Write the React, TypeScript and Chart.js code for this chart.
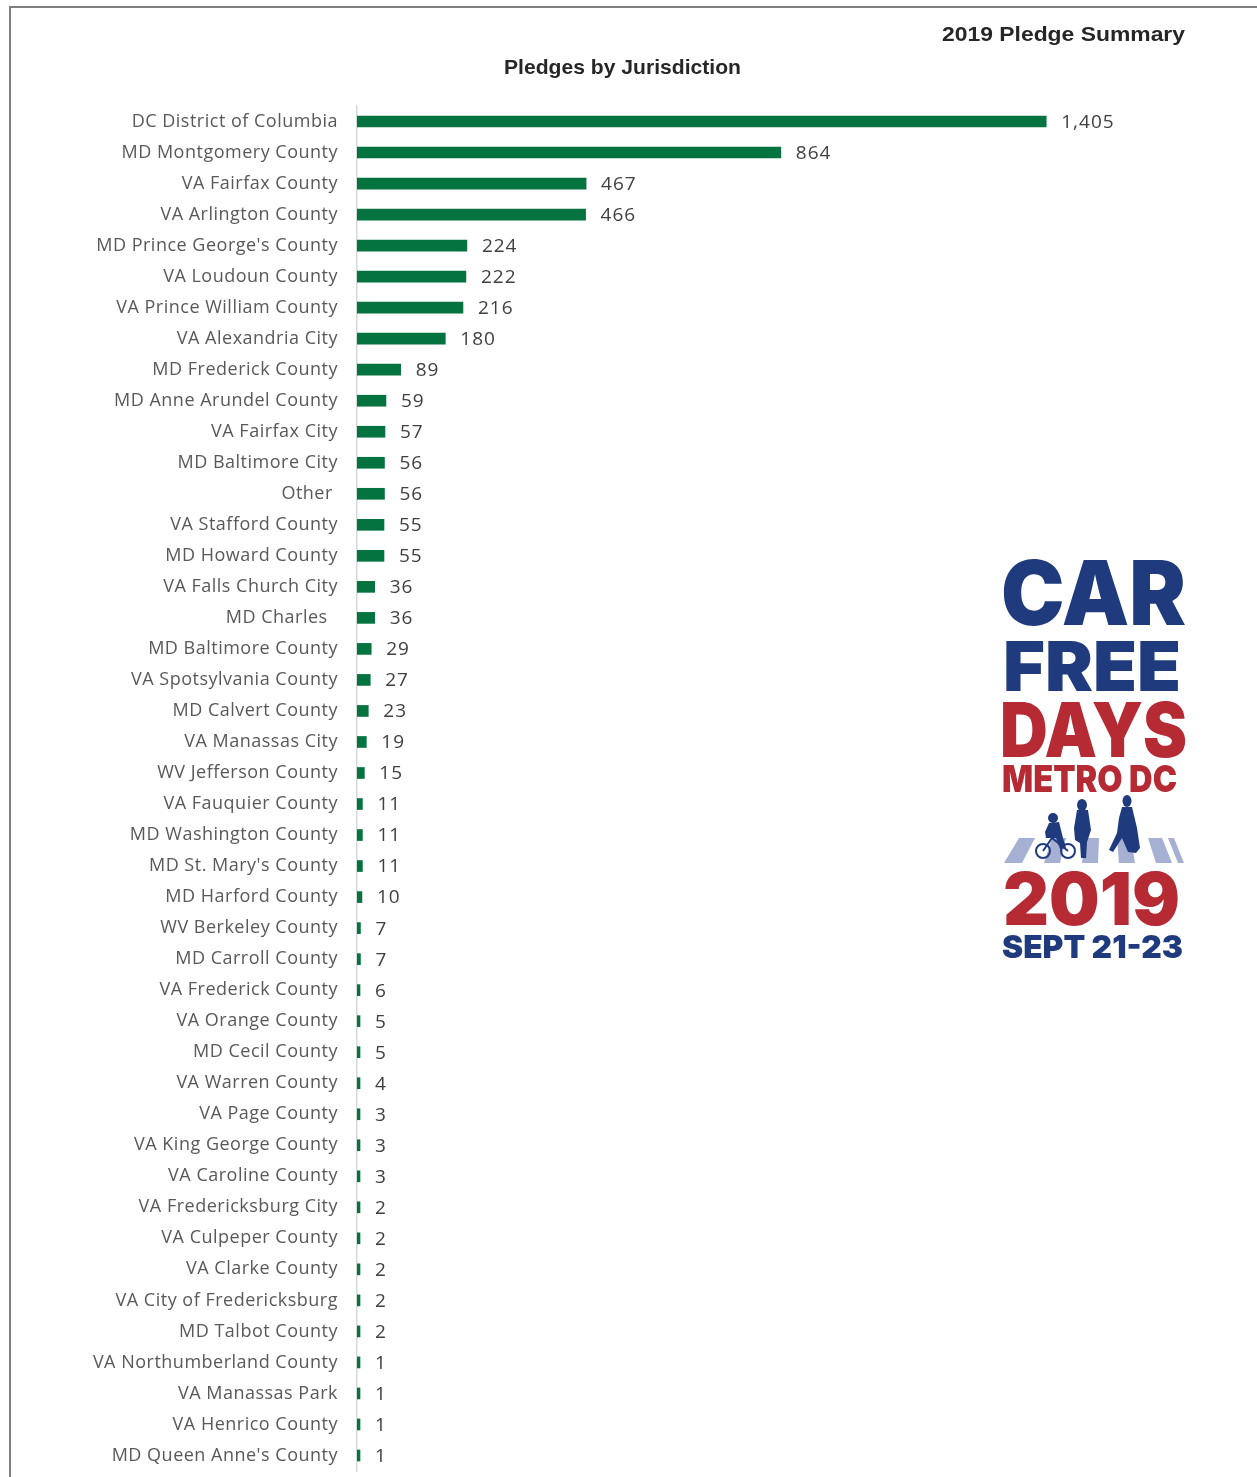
import React, { useEffect, useRef } from "react";
import { Chart, registerables } from "chart.js";

Chart.register(...registerables);

const categories: string[] = [
  "DC District of Columbia",
  "MD Montgomery County",
  "VA Fairfax County",
  "VA Arlington County",
  "MD Prince George's County",
  "VA Loudoun County",
  "VA Prince William County",
  "VA Alexandria City",
  "MD Frederick County",
  "MD Anne Arundel County",
  "VA Fairfax City",
  "MD Baltimore City",
  "Other ",
  "VA Stafford County",
  "MD Howard County",
  "VA Falls Church City",
  "MD Charles  ",
  "MD Baltimore County",
  "VA Spotsylvania County",
  "MD Calvert County",
  "VA Manassas City",
  "WV Jefferson County",
  "VA Fauquier County",
  "MD Washington County",
  "MD St. Mary's County",
  "MD Harford County",
  "WV Berkeley County",
  "MD Carroll County",
  "VA Frederick County",
  "VA Orange County",
  "MD Cecil County",
  "VA Warren County",
  "VA Page County",
  "VA King George County",
  "VA Caroline County",
  "VA Fredericksburg City",
  "VA Culpeper County",
  "VA Clarke County",
  "VA City of Fredericksburg",
  "MD Talbot County",
  "VA Northumberland County",
  "VA Manassas Park",
  "VA Henrico County",
  "MD Queen Anne's County",
];

const pledges: number[] = [
  1405, 864, 467, 466, 224, 222, 216, 180, 89, 59, 57, 56, 56, 55, 55, 36, 36,
  29, 27, 23, 19, 15, 11, 11, 11, 10, 7, 7, 6, 5, 5, 4, 3, 3, 3, 2, 2, 2, 2, 2,
  1, 1, 1, 1,
];

const chartTitle = "Pledges by Jurisdiction";
const pageTitle = "2019 Pledge Summary";
const logoLines = ["CAR", "FREE", "DAYS", "METRO DC", "2019", "SEPT 21-23"];

const BAR_COLOR = "#05733f";
const TEXT_COLOR = "#595959";
const VALUE_COLOR = "#404040";
const NAVY = "#1f3b7e";
const RED = "#b62a33";

const spacingPlugin = {
  id: "spacing",
  beforeDraw(chart: any) {
    (chart.ctx as any).letterSpacing = "0.5px";
  },
};

const valueLabelPlugin = {
  id: "valueLabels",
  afterDatasetsDraw(chart: any) {
    const ctx = chart.ctx;
    const meta = chart.getDatasetMeta(0);
    ctx.save();
    (ctx as any).letterSpacing = "1px";
    ctx.font = '19px "Open Sans"';
    ctx.fillStyle = VALUE_COLOR;
    ctx.textAlign = "left";
    ctx.textBaseline = "middle";
    meta.data.forEach((bar: any, i: number) => {
      const v = pledges[i];
      const base = chart.scales.x.getPixelForValue(v);
      ctx.fillText(v.toLocaleString("en-US"), Math.max(base, 360) + 15, bar.y + 1);
    });
    ctx.restore();
  },
};

function ChartCanvas() {
  const ref = useRef<HTMLCanvasElement | null>(null);
  useEffect(() => {
    if (!ref.current) return;
    const chart = new Chart(ref.current, {
      type: "bar",
      data: {
        labels: categories,
        datasets: [
          {
            data: pledges,
            backgroundColor: BAR_COLOR,
            borderWidth: 0,
            barThickness: 11,
            minBarLength: 3,
          },
        ],
      },
      options: {
        indexAxis: "y",
        responsive: false,
        animation: false,
        devicePixelRatio: 1,
        layout: { padding: { top: 106, bottom: 6, left: 0, right: 17 } },
        plugins: {
          legend: { display: false },
          tooltip: { enabled: false },
          title: { display: false },
        },
        scales: {
          x: {
            display: false,
            min: 0,
            max: 1800,
          },
          y: {
            afterFit(scale: any) {
              scale.width = 357;
              scale.paddingTop = 0;
              scale.paddingBottom = 0;
            },
            grid: { display: false, drawTicks: false },
            border: { display: true, color: "#d4d9d6", width: 1.5 },
            ticks: {
              padding: 19,
              autoSkip: false,
              color: TEXT_COLOR,
              font: { family: '"Open Sans"', size: 18 },
            },
          },
        },
      } as any,
      plugins: [spacingPlugin, valueLabelPlugin],
    });
    return () => chart.destroy();
  }, []);
  return <canvas ref={ref} width={1257} height={1477} style={{ display: "block" }} />;
}

function Stripe({ x1, x2, b1, b2 }: { x1: number; x2: number; b1: number; b2: number }) {
  return <polygon points={`${x1},838 ${x2},838 ${b2},863 ${b1},863`} fill="#a6b0d3" />;
}

export default function App() {
  const logoFont = 'Inter, Lato, Roboto, sans-serif';
  return (
    <div
      style={{
        position: "fixed",
        left: 0,
        top: 0,
        width: 1257,
        height: 1477,
        background: "#ffffff",
        overflow: "hidden",
      }}
    >
      <ChartCanvas />
      <svg
        width={1257}
        height={1477}
        style={{ position: "absolute", left: 0, top: 0, pointerEvents: "none" }}
      >
        <line x1={9} y1={7} x2={1257} y2={7} stroke="#7f7f7f" strokeWidth={2} />
        <line x1={10} y1={6} x2={10} y2={1477} stroke="#7f7f7f" strokeWidth={2} />
        <text
          x={942}
          y={41}
          textLength={243}
          lengthAdjust="spacingAndGlyphs"
          fontFamily='"Liberation Sans", Arial, sans-serif'
          fontWeight={700}
          fontSize={21}
          fill="#262626"
        >
          {pageTitle}
        </text>
        <text
          x={504}
          y={74}
          textLength={237}
          lengthAdjust="spacingAndGlyphs"
          fontFamily='"Liberation Sans", Arial, sans-serif'
          fontWeight={700}
          fontSize={21}
          fill="#262626"
        >
          {chartTitle}
        </text>

        {/* logo */}
        <g fontFamily={logoFont} fontWeight={900}>
          <text x={1001} y={625} textLength={185} lengthAdjust="spacingAndGlyphs" fontSize={89} fill={NAVY}>
            {logoLines[0]}
          </text>
          <text x={1003} y={691} textLength={178} lengthAdjust="spacingAndGlyphs" fontSize={69} fill={NAVY}>
            {logoLines[1]}
          </text>
          <text x={1000} y={757} textLength={187} lengthAdjust="spacingAndGlyphs" fontSize={75} fill={RED}>
            {logoLines[2]}
          </text>
          <text x={1002} y={792} textLength={175} lengthAdjust="spacingAndGlyphs" fontSize={37} fill={RED}>
            {logoLines[3]}
          </text>
          <text x={1003} y={925} textLength={177} lengthAdjust="spacingAndGlyphs" fontSize={73} fill={RED}>
            {logoLines[4]}
          </text>
          <text x={1002} y={958} textLength={181} lengthAdjust="spacingAndGlyphs" fontSize={32} fill={NAVY}>
            {logoLines[5]}
          </text>
        </g>
        <Stripe x1={1019} x2={1035} b1={1004} b2={1022} />
        <Stripe x1={1052} x2={1066} b1={1044} b2={1060} />
        <Stripe x1={1085} x2={1099} b1={1082} b2={1098} />
        <Stripe x1={1117} x2={1131} b1={1119} b2={1135} />
        <Stripe x1={1148} x2={1162} b1={1156} b2={1172} />
        <Stripe x1={1168} x2={1174} b1={1178} b2={1184} />
        <g fill={NAVY}>
          {/* child on bike */}
          <circle cx={1043} cy={851} r={7} fill="none" stroke={NAVY} strokeWidth={2} />
          <circle cx={1068} cy={851} r={7} fill="none" stroke={NAVY} strokeWidth={2} />
          <circle cx={1053} cy={818} r={5} />
          <path d="M1049,823 L1059,822 L1063,838 L1066,848 L1060,849 L1056,838 L1046,838 L1045,832 Z" />
          <path d="M1043,851 L1052,838 L1068,851" fill="none" stroke={NAVY} strokeWidth={2} />
          {/* woman */}
          <ellipse cx={1082} cy={805} rx={5} ry={6} />
          <path d="M1077,810 L1088,810 L1091,830 L1087,842 L1086,858 L1081,858 L1080,843 L1075,840 L1074,828 Z" />
          {/* walker */}
          <ellipse cx={1127} cy={801} rx={4.5} ry={6} />
          <path d="M1122,807 L1132,807 L1137,828 L1140,848 L1136,853 L1128,852 L1122,838 L1113,852 L1109,850 L1117,833 L1119,818 Z" />
        </g>
      </svg>
    </div>
  );
}
